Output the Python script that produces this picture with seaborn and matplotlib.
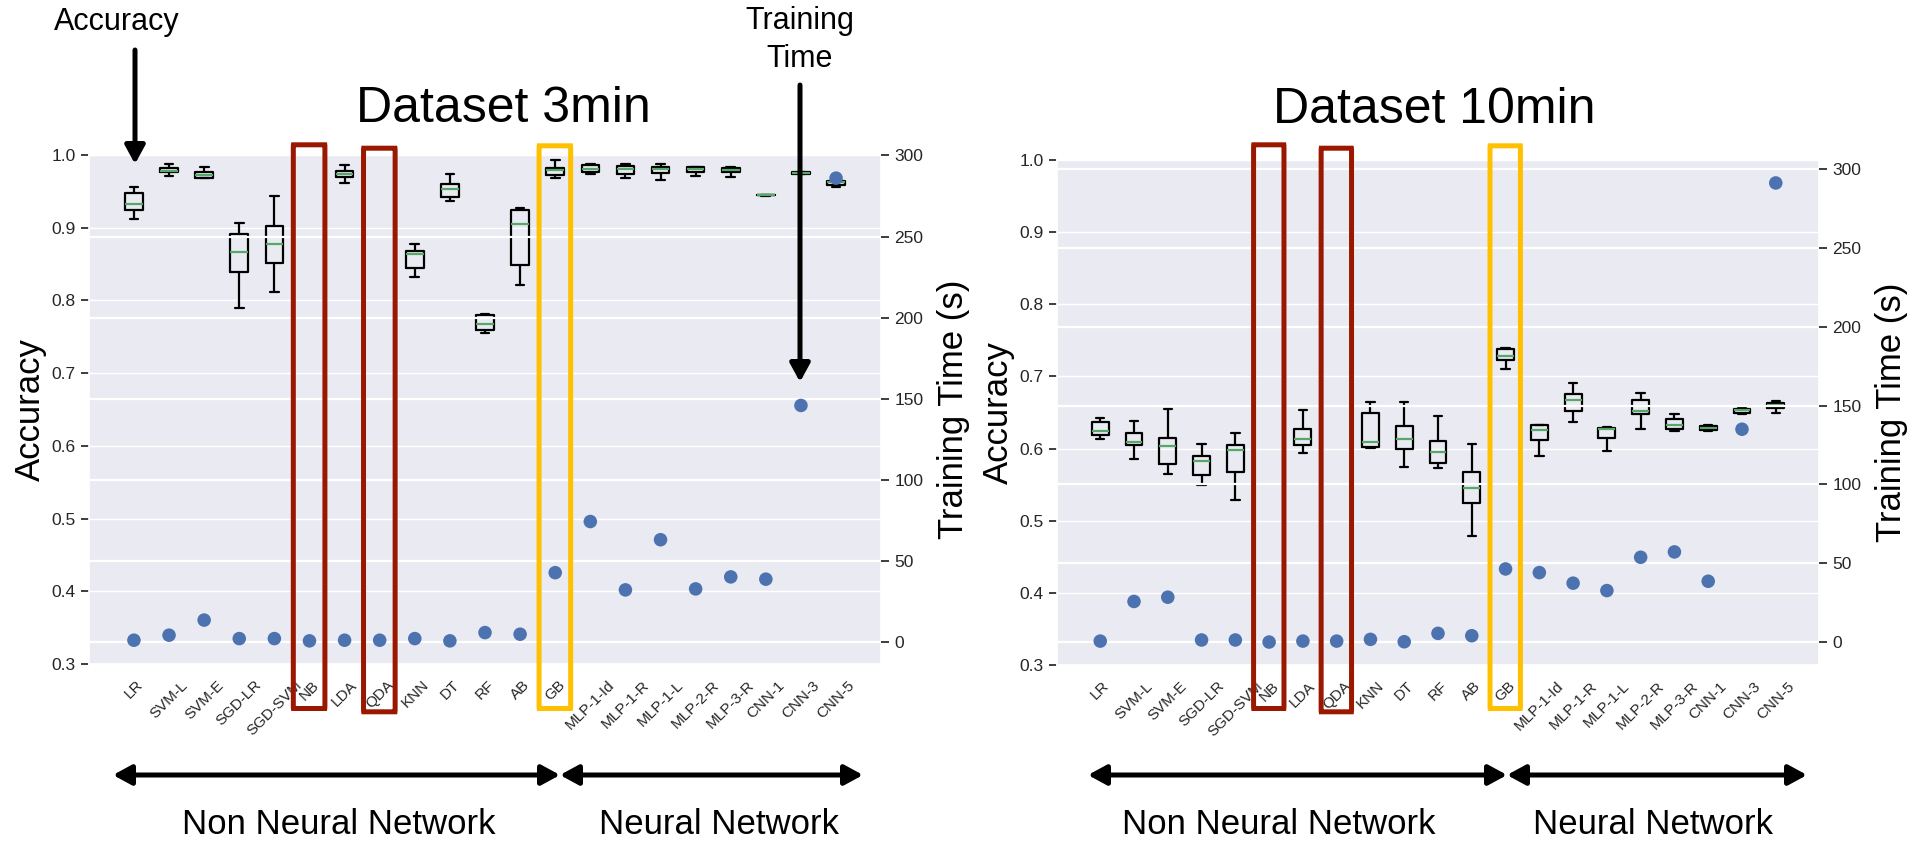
import numpy as np
import pandas as pd
import matplotlib
matplotlib.use("Agg")
import matplotlib.pyplot as plt
from matplotlib.patches import FancyBboxPatch, FancyArrowPatch
from matplotlib.transforms import blended_transform_factory
import seaborn as sns

categories = ["LR", "SVM-L", "SVM-E", "SGD-LR", "SGD-SVM", "NB", "LDA", "QDA", "KNN", "DT",
              "RF", "AB", "GB", "MLP-1-Id", "MLP-1-R", "MLP-1-L", "MLP-2-R", "MLP-3-R",
              "CNN-1", "CNN-3", "CNN-5"]
nan = np.nan

# Dataset 3min : accuracy box statistics (whisker low, q1, median, q3, whisker high)
acc3_whislo = [0.912, 0.9715, 0.968, 0.790, 0.811, nan, 0.962, nan, 0.8327, 0.937, 0.755, 0.821,
               0.968, 0.9739, 0.968, 0.966, 0.9715, 0.9697, 0.944, 0.9735, 0.9564]
acc3_q1 = [0.924, 0.976, 0.968, 0.8395, 0.851, nan, 0.970, nan, 0.8446, 0.942, 0.759, 0.8487,
           0.9725, 0.976, 0.9739, 0.9757, 0.976, 0.976, 0.9444, 0.9743, 0.9587]
acc3_med = [0.932, 0.978, 0.973, 0.8666, 0.878, nan, 0.974, nan, 0.8643, 0.953, 0.767, 0.905,
            0.980, 0.9807, 0.9807, 0.9804, 0.9807, 0.980, 0.9449, 0.9752, 0.9624]
acc3_q3 = [0.948, 0.982, 0.9766, 0.891, 0.903, nan, 0.978, nan, 0.868, 0.9606, 0.7795, 0.924,
           0.9826, 0.9858, 0.9853, 0.9835, 0.984, 0.9826, 0.9453, 0.9762, 0.9647]
acc3_whishi = [0.956, 0.988, 0.984, 0.9065, 0.943, nan, 0.986, nan, 0.8776, 0.9743, 0.781, 0.9275,
               0.9936, 0.988, 0.988, 0.988, 0.984, 0.984, 0.9455, 0.977, 0.9647]
time3 = [1.4, 4.5, 13.8, 2.4, 2.4, 1.0, 1.4, 1.4, 2.4, 1.0, 6.1, 5.1, 43.0, 74.5, 32.4, 63.3,
         33.0, 40.4, 39.0, 146.0, 286.0]

# Dataset 10min
acc10_whislo = [0.6128, 0.586, 0.5646, 0.5498, 0.5294, nan, 0.5933, nan, 0.6007, 0.5743, 0.5725,
                0.4789, 0.7097, 0.5901, 0.6364, 0.5961, 0.6267, 0.6243, 0.6243, 0.6476, 0.6494]
acc10_q1 = [0.6184, 0.6054, 0.578, 0.5632, 0.5669, nan, 0.6054, nan, 0.6021, 0.5993, 0.5804,
            0.5242, 0.7222, 0.6118, 0.6522, 0.6146, 0.6476, 0.6267, 0.6263, 0.6494, 0.6569]
acc10_med = [0.6249, 0.6086, 0.603, 0.5826, 0.5985, nan, 0.6128, nan, 0.609, 0.6132, 0.5952,
             0.5456, 0.7286, 0.6253, 0.668, 0.6271, 0.6522, 0.6332, 0.6291, 0.6531, 0.6601]
acc10_q3 = [0.6369, 0.6216, 0.6142, 0.5892, 0.6054, nan, 0.6271, nan, 0.649, 0.6309, 0.6105,
            0.5673, 0.7379, 0.632, 0.6754, 0.6285, 0.667, 0.641, 0.6318, 0.6555, 0.6633]
acc10_whishi = [0.642, 0.6378, 0.655, 0.6068, 0.6221, nan, 0.6531, nan, 0.6647, 0.6647, 0.6452,
                0.6068, 0.7389, 0.6323, 0.6902, 0.6299, 0.6768, 0.6476, 0.6323, 0.6573, 0.6656]
time10 = [0.8, 25.9, 28.6, 1.5, 1.5, 0.2, 0.8, 0.8, 1.9, 0.4, 5.7, 4.2, 46.5, 44.2, 37.5, 32.8,
          53.9, 57.3, 38.7, 135.0, 291.0]

acc_ticks = [0.3, 0.4, 0.5, 0.6, 0.7, 0.8, 0.9, 1.0]
time_ticks = [0, 50, 100, 150, 200, 250, 300]

RED = "#9A1800"
GOLD = "#FFC000"

sns.set_theme(style="darkgrid")
plt.rcParams['font.family'] = ['Liberation Sans', 'DejaVu Sans']

W, H = 1915, 843
fig = plt.figure(figsize=(W / 100, H / 100), dpi=100)


def fx(x):
    return x / W


def fy(y):
    return 1 - y / H


def long_form(lo, q1, med, q3, hi):
    rows = []
    for i, c in enumerate(categories):
        if np.isnan(med[i]):
            continue
        for v in (lo[i], q1[i], med[i], q3[i], hi[i]):
            rows.append({"model": c, "acc": v})
    return pd.DataFrame(rows)


def panel(rect, lo, q1, med, q3, hi, times):
    ax = fig.add_axes(rect)
    df = long_form(lo, q1, med, q3, hi)
    sns.boxplot(data=df, x="model", y="acc", order=categories, ax=ax, fill=False,
                color="black", linecolor="black", width=0.5, whis=(0, 100),
                linewidth=1.6, showfliers=False,
                medianprops=dict(color="#55A868", linewidth=1.6))
    ax.set_xlim(-1.28, len(categories) - 1 + 1.28)
    ax.set_ylim(0.3, 1.0)
    ax.set_yticks(acc_ticks)
    ax.set_yticklabels([f"{t:.1f}" for t in acc_ticks], fontsize=12.5, color="#262626")
    ax.set_xticks(range(len(categories)))
    ax.set_xticklabels(categories, rotation=45, fontsize=11, color="#262626")
    ax.set_xlabel("")
    ax.set_ylabel("Accuracy", fontsize=25, color="black", labelpad=3)
    ax.tick_params(axis="x", pad=4)

    ax2 = ax.twinx()
    sns.scatterplot(x=np.arange(len(categories)), y=times, ax=ax2, s=95,
                    color="#4C72B0", edgecolor="none", linewidth=0, zorder=5)
    ax2.set_yticks(time_ticks)
    ax2.set_yticklabels([str(t) for t in time_ticks], fontsize=12.5, color="#262626")
    ax2.set_ylabel("Training Time (s)", fontsize=25, color="black", labelpad=10)
    ax2.grid(True, axis="y", color="white", linewidth=1.6)
    ax2.grid(False, axis="x")
    for s in ax2.spines.values():
        s.set_visible(False)
    ax2.set_xlim(ax.get_xlim())
    return ax, ax2


axL, axL2 = panel([fx(89), fy(664), (881 - 89) / W, (664 - 155) / H],
                  acc3_whislo, acc3_q1, acc3_med, acc3_q3, acc3_whishi, time3)
axR, axR2 = panel([fx(1057), fy(665), (1819 - 1057) / W, (665 - 160) / H],
                  acc10_whislo, acc10_q1, acc10_med, acc10_q3, acc10_whishi, time10)

# Titles
fig.text(fx(503), fy(122), "Dataset 3min", fontsize=36, ha="center", va="baseline", color="black")
fig.text(fx(1434), fy(123), "Dataset 10min", fontsize=36, ha="center", va="baseline", color="black")


# Highlight rectangles (x in category units, y in figure coords)
def highlight(ax, idx, top, bottom, color):
    tr = blended_transform_factory(ax.transData, fig.transFigure)
    p = FancyBboxPatch((idx - 0.46, fy(bottom)), 0.9, fy(top) - fy(bottom),
                       boxstyle="round,pad=0,rounding_size=0.004", transform=tr,
                       facecolor="none", edgecolor=color, linewidth=3.6,
                       clip_on=False, zorder=20)
    fig.add_artist(p)


for ax in (axL, axR):
    highlight(ax, categories.index("NB"), 144.8, 708.5, RED)
    highlight(ax, categories.index("QDA"), 148.2, 711.8, RED)
    highlight(ax, categories.index("GB"), 145.8, 708.5, GOLD)


def arrow(x0, y0, x1, y1, style):
    a = FancyArrowPatch((fx(x0), fy(y0)), (fx(x1), fy(y1)), transform=fig.transFigure,
                        arrowstyle=style, mutation_scale=20, linewidth=3.6,
                        color="black", shrinkA=0, shrinkB=0, zorder=30)
    fig.add_artist(a)


# Top annotations
fig.text(fx(117), fy(30), "Accuracy", fontsize=22, ha="center", va="baseline", color="black")
arrow(135, 50, 135, 164, "-|>,head_length=0.55,head_width=0.3")
fig.text(fx(800), fy(29), "Training", fontsize=22, ha="center", va="baseline", color="black")
fig.text(fx(800), fy(67), "Time", fontsize=22, ha="center", va="baseline", color="black")
arrow(800, 85, 800, 382, "-|>,head_length=0.55,head_width=0.3")

# Bottom group arrows
ds = "<|-|>,head_length=0.55,head_width=0.3"
arrow(113, 775, 560, 775, ds)
arrow(560, 775, 863, 775, ds)
arrow(1088, 775, 1507, 775, ds)
arrow(1507, 775, 1807, 775, ds)
for xc, label in ((339, "Non Neural Network"), (719, "Neural Network"),
                  (1279, "Non Neural Network"), (1653, "Neural Network")):
    fig.text(fx(xc), fy(834), label, fontsize=25, ha="center", va="baseline", color="black")

fig.savefig("out.png", dpi=100, facecolor="white")
